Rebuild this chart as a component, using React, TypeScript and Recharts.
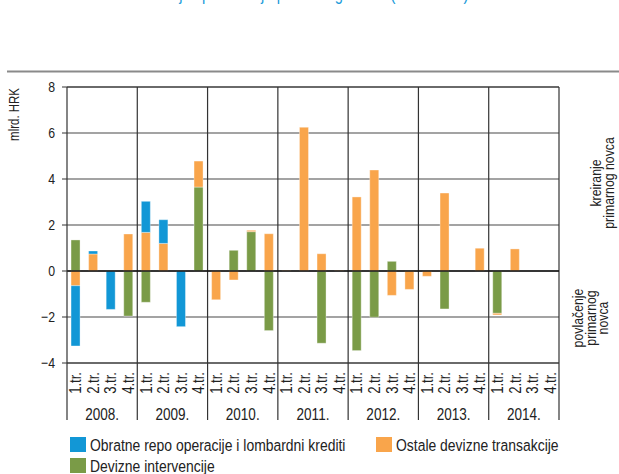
import React from 'react'
import { BarChart, Bar, XAxis, YAxis, CartesianGrid, ReferenceLine } from 'recharts'

const years = ['2008.', '2009.', '2010.', '2011.', '2012.', '2013.', '2014.']
const quarters = ['1.tr.', '2.tr.', '3.tr.', '4.tr.']

// mlrd. HRK, po tromjesečjima 2008.–2014.
const repoLombard = [-2.62, 0.13, -1.67, 0, 1.35, 1.03, -2.42, 0, 0, 0, 0, 0, 0, 0, 0, 0, 0, 0, 0, 0, 0, 0, 0, 0, 0, 0, 0, 0]
const ostaleTransakcije = [-0.64, 0.74, 0, 1.61, 1.68, 1.2, 0, 1.13, -1.25, -0.39, 0.06, 1.62, 0.03, 6.25, 0.75, 0.03, 3.22, 4.39, -1.06, -0.8, -0.23, 3.39, 0, 0.99, -0.07, 0.96, 0, 0]
const devizneIntervencije = [1.35, 0, 0, -1.96, -1.36, 0, 0, 3.65, 0, 0.9, 1.71, -2.59, 0, 0, -3.14, 0, -3.46, -2.01, 0.42, 0, 0, -1.65, 0, 0, -1.84, 0, 0, 0]
const yTicks = [-4, -2, 0, 2, 4, 6, 8]

const BLUE = '#1297d6'
const ORANGE = '#f9a54b'
const GREEN = '#7a9b47'
const FONT = "'Liberation Sans', Arial, sans-serif"
const SQUEEZE = 0.82

const data = repoLombard.map((v, i) => ({
    key: `${years[Math.floor(i / 4)]}-${quarters[i % 4]}`,
    year: years[Math.floor(i / 4)],
    repo: v,
    ostale: ostaleTransakcije[i],
    intervencije: devizneIntervencije[i],
}))

const legendItems = [
    { name: 'Obratne repo operacije i lombardni krediti', color: BLUE },
    { name: 'Ostale devizne transakcije', color: ORANGE },
    { name: 'Devizne intervencije', color: GREEN },
]

// narrow text: Arial metrics squeezed horizontally
const NText = ({ x, y, size, anchor = 'start', rotate = false, fill = '#222', children }: any) => (
    <text
        transform={`translate(${x},${y})${rotate ? ' rotate(-90)' : ''} scale(${SQUEEZE},1)`}
        fontSize={size}
        fontFamily={FONT}
        textAnchor={anchor}
        fill={fill}
    >
        {children}
    </text>
)

const QuarterTick = (props: any) => {
    const { x, y, index } = props
    return <NText x={x + 5.5} y={y + 9} size={16} anchor="end" rotate>{quarters[index % 4]}</NText>
}

const YearTick = (props: any) => {
    const { x, y, payload, index, width } = props
    const w = width / years.length
    return (
        <g>
            <line x1={x - w / 2} x2={x - w / 2} y1={y - 40} y2={y + 17} stroke="#333" strokeWidth={1.2} />
            {index === years.length - 1 && (
                <line x1={x + w / 2} x2={x + w / 2} y1={y - 40} y2={y + 17} stroke="#333" strokeWidth={1.2} />
            )}
            <NText x={x} y={y + 17} size={16.5} anchor="middle">{payload.value}</NText>
        </g>
    )
}

const YTick = (props: any) => {
    const { x, y, payload } = props
    return <NText x={x} y={y + 5} size={15} anchor="end">{String(payload.value).replace('-', '\u2212')}</NText>
}

export default function App() {
    return (
        <div style={{ position: 'relative', width: 619, height: 474 }}>
            <style>{`body{margin:0}`}</style>
            <BarChart
                width={619}
                height={474}
                data={data}
                stackOffset="sign"
                barCategoryGap="23%"
                margin={{ top: 87, right: 60, bottom: 51, left: 0 }}
            >
                <CartesianGrid horizontal vertical={false} stroke="#858585" strokeWidth={1.3} />
                <CartesianGrid
                    horizontal={false}
                    vertical
                    stroke="#333"
                    strokeWidth={1.2}
                    verticalCoordinatesGenerator={({ offset }: any) =>
                        years.map((_, k) => offset.left + (offset.width * (k + 1)) / years.length)
                    }
                />
                <XAxis
                    dataKey="key"
                    height={40}
                    interval={0}
                    tickLine={false}
                    tickSize={0}
                    tickMargin={0}
                    axisLine={{ stroke: '#333', strokeWidth: 1.2 }}
                    tick={<QuarterTick />}
                />
                <XAxis
                    dataKey="year"
                    xAxisId="year"
                    allowDuplicatedCategory={false}
                    height={20}
                    interval={0}
                    tickLine={false}
                    tickSize={0}
                    tickMargin={0}
                    axisLine={false}
                    tick={<YearTick />}
                />
                <YAxis
                    domain={[-4, 8]}
                    ticks={yTicks}
                    width={67}
                    tickSize={5}
                    tickMargin={7}
                    axisLine={{ stroke: '#333', strokeWidth: 1.2 }}
                    tickLine={{ stroke: '#333' }}
                    tick={<YTick />}
                />
                <ReferenceLine y={8} stroke="#333" strokeWidth={1.2} />
                <Bar dataKey="intervencije" stackId="a" fill={GREEN} stroke="#fff" strokeOpacity={0.35} isAnimationActive={false} />
                <Bar dataKey="ostale" stackId="a" fill={ORANGE} stroke="#fff" strokeOpacity={0.35} isAnimationActive={false} />
                <Bar dataKey="repo" stackId="a" fill={BLUE} stroke="#fff" strokeOpacity={0.35} isAnimationActive={false} />
                <ReferenceLine y={0} stroke="#111" strokeWidth={1.3} />
            </BarChart>
            <svg width={619} height={474} style={{ position: 'absolute', left: 0, top: 0, pointerEvents: 'none' }}>
                <NText x={300} y={-0.5} size={18} anchor="middle" fill="#1a9ad9">
                    Kreiranje i povlačenje primarnog novca (mlrd. HRK)
                </NText>
                <line x1={7} x2={619} y1={71.5} y2={71.5} stroke="#8a8a8a" strokeWidth={2} />
                <NText x={19} y={88} size={14} anchor="end" rotate>mlrd. HRK</NText>
                <g>
                    <NText x={601} y={183} size={15} anchor="middle" rotate>kreiranje</NText>
                    <NText x={614} y={183} size={15} anchor="middle" rotate>primarnog novca</NText>
                </g>
                <g>
                    <NText x={583} y={318} size={15} anchor="middle" rotate>povlačenje</NText>
                    <NText x={595.5} y={318} size={15} anchor="middle" rotate>primarnog</NText>
                    <NText x={608} y={318} size={15} anchor="middle" rotate>novca</NText>
                </g>
                <g>
                    <rect x={70} y={437} width={16} height={15} fill={legendItems[0].color} />
                    <NText x={90} y={450.5} size={17}>{legendItems[0].name}</NText>
                    <rect x={376} y={437} width={16} height={15} fill={legendItems[1].color} />
                    <NText x={396} y={450.5} size={17}>{legendItems[1].name}</NText>
                    <rect x={70} y={458} width={16} height={15} fill={legendItems[2].color} />
                    <NText x={90} y={471.5} size={17}>{legendItems[2].name}</NText>
                </g>
            </svg>
        </div>
    )
}
